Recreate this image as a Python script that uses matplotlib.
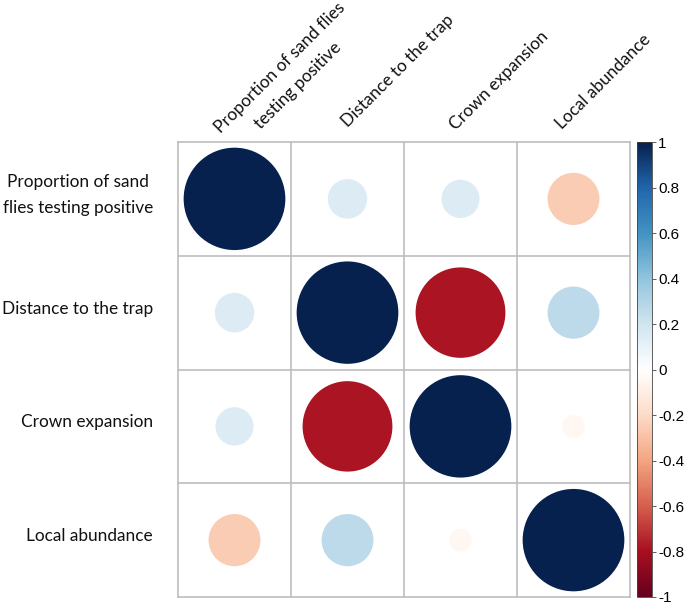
import numpy as np
import matplotlib
matplotlib.use("Agg")
import matplotlib.pyplot as plt
from matplotlib.colors import LinearSegmentedColormap, Normalize
from matplotlib.patches import Circle
from matplotlib.colorbar import ColorbarBase

# variables (row labels / column labels)
row_labels = ["Proportion of sand\nflies testing positive", "Distance to the trap",
              "Crown expansion", "Local abundance"]
col_labels = ["Proportion of sand flies\ntesting positive", "Distance to the trap",
              "Crown expansion", "Local abundance"]

# correlation matrix
corr = np.array([
    [1.00, 0.15, 0.14, -0.26],
    [0.15, 1.00, -0.78, 0.26],
    [0.14, -0.78, 1.00, -0.05],
    [-0.26, 0.26, -0.05, 1.00],
])

cbar_ticks = [-1, -0.8, -0.6, -0.4, -0.2, 0, 0.2, 0.4, 0.6, 0.8, 1]

# corrplot COL2('RdBu'), ends a bit darker like the picture
col2 = ["#67001F", "#A8101F", "#D6604D", "#F4A582", "#FDDBC7", "#FFFFFF",
        "#D1E5F0", "#92C5DE", "#4393C3", "#2166AC", "#06214E"]
cmap = LinearSegmentedColormap.from_list("rdbu2", col2, N=200)
norm = Normalize(-1, 1)

W, H = 685, 608
fig = plt.figure(figsize=(W / 100, H / 100), dpi=100)

label_font = ["Lato", "DejaVu Sans"]
grid_col = "#BEBEBE"

# main grid, pixel box 178..630 x 142..597
x0, x1, y0, y1 = 178, 630, 142, 597
ax = fig.add_axes([x0 / W, 1 - y1 / H, (x1 - x0) / W, (y1 - y0) / H])
n = len(corr)
ax.set_xlim(0, n)
ax.set_ylim(n, 0)
ax.set_axis_off()

for i in range(n):
    for j in range(n):
        r = corr[i, j]
        c = Circle((j + 0.5, i + 0.5), 0.45 * np.sqrt(abs(r)),
                   facecolor=cmap(norm(r)), edgecolor="none")
        ax.add_patch(c)

for k in range(n + 1):
    ax.plot([k, k], [0, n], color=grid_col, lw=1.2, clip_on=False)
    ax.plot([0, n], [k, k], color=grid_col, lw=1.2, clip_on=False)

# row labels, right aligned
for i, lab in enumerate(row_labels):
    cy = y0 + (i + 0.5) * (y1 - y0) / n - 4
    fig.text(153 / W, 1 - cy / H, lab,
             ha="right", va="center", multialignment="center", linespacing=1.75,
             fontsize=12.4, family=label_font, color="#111111")

# column labels, rotated 45; offsets (px) of the baseline start from the column centre
col_off = [(-2, 145), (0, 128), (-5, 131), (-12, 130)]
for j, lab in enumerate(col_labels):
    cx = x0 + (j + 0.5) * (x1 - x0) / n + col_off[j][0]
    fig.text(cx / W, 1 - col_off[j][1] / H, lab, rotation=45, rotation_mode="anchor",
             ha="left", va="baseline", multialignment="center", linespacing=1.75,
             fontsize=12.4, family=label_font, color="#111111")

# colorbar
cax = fig.add_axes([637 / W, 1 - y1 / H, 15 / W, (y1 - y0) / H])
cb = ColorbarBase(cax, cmap=cmap, norm=norm, ticks=cbar_ticks)
cb.outline.set_edgecolor("#444444")
cb.outline.set_linewidth(0.6)
cax.tick_params(length=3, width=0.6, color="#444444", labelsize=11, pad=1.5)
cax.set_yticklabels([("%g" % t) for t in cbar_ticks], family="Liberation Sans")

fig.savefig("out.png", dpi=100)
